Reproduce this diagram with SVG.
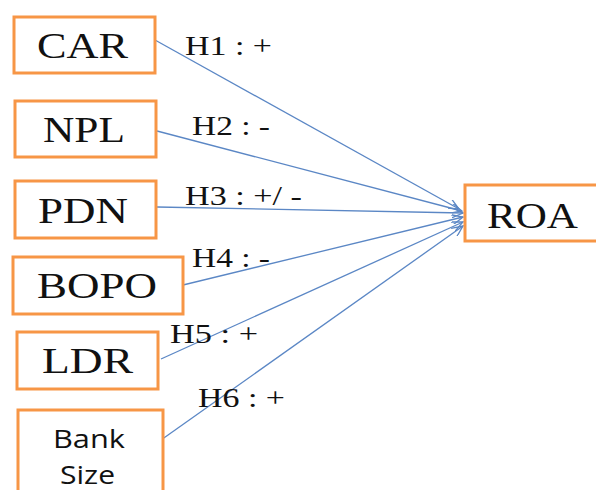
<svg xmlns="http://www.w3.org/2000/svg" width="596" height="490" viewBox="0 0 596 490">
<defs>
<style>
.box{fill:#fff;stroke:#f79646;stroke-width:3}
.t{font-family:"Liberation Serif","Times New Roman",serif;font-size:35px;fill:#111}
.s{font-family:"Open Sans","Liberation Sans",sans-serif;font-size:25px;fill:#111}
.h{font-family:"Liberation Serif","Times New Roman",serif;font-size:27px;fill:#111}
.c{stroke:#5b87c5;stroke-width:1.3;fill:none;marker-end:url(#ah)}
</style>
<marker id="ah" viewBox="0 0 12 10" refX="11" refY="5" markerWidth="12" markerHeight="10" markerUnits="userSpaceOnUse" orient="auto">
<path d="M0,0 L11,5 L0,10" fill="none" stroke="#5b87c5" stroke-width="1.3"/>
</marker>
</defs>
<rect width="596" height="490" fill="#fff"/>
<g id="connectors">
<line class="c" x1="155" y1="40" x2="459" y2="209"/>
<line class="c" x1="157" y1="131" x2="462" y2="211"/>
<line class="c" x1="157" y1="207" x2="463" y2="213"/>
<line class="c" x1="183" y1="285" x2="463" y2="217"/>
<line class="c" x1="161" y1="359" x2="463" y2="222"/>
<line class="c" x1="161" y1="440" x2="463" y2="226"/>
</g>
<g id="labels">
<text class="h" x="185" y="55" textLength="87" lengthAdjust="spacingAndGlyphs">H1 : +</text>
<text class="h" x="192" y="135" textLength="78" lengthAdjust="spacingAndGlyphs">H2 : -</text>
<text class="h" x="185" y="205" textLength="117" lengthAdjust="spacingAndGlyphs">H3 : +/ -</text>
<text class="h" x="192" y="267" textLength="78" lengthAdjust="spacingAndGlyphs">H4 : -</text>
<text class="h" x="170" y="343" textLength="88" lengthAdjust="spacingAndGlyphs">H5 : +</text>
<text class="h" x="198" y="407" textLength="87" lengthAdjust="spacingAndGlyphs">H6 : +</text>
</g>
<g id="car"><rect class="box" x="14" y="17" width="141" height="56"/><text class="t" x="37" y="58" textLength="91" lengthAdjust="spacingAndGlyphs">CAR</text></g>
<g id="npl"><rect class="box" x="15" y="101" width="141" height="56"/><text class="t" x="43" y="142" textLength="82" lengthAdjust="spacingAndGlyphs">NPL</text></g>
<g id="pdn"><rect class="box" x="15" y="181" width="141" height="57"/><text class="t" x="38" y="223" textLength="90" lengthAdjust="spacingAndGlyphs">PDN</text></g>
<g id="bopo"><rect class="box" x="13" y="257" width="170" height="57"/><text class="t" x="37" y="298" textLength="120" lengthAdjust="spacingAndGlyphs">BOPO</text></g>
<g id="ldr"><rect class="box" x="17" y="332" width="141" height="57"/><text class="t" x="42" y="373" textLength="91" lengthAdjust="spacingAndGlyphs">LDR</text></g>
<g id="banksize"><rect class="box" x="18" y="410" width="145" height="90"/><text class="s" x="53" y="448" textLength="72" lengthAdjust="spacingAndGlyphs">Bank</text><text class="s" x="60" y="484" textLength="55" lengthAdjust="spacingAndGlyphs">Size</text></g>
<g id="roa"><rect class="box" x="465" y="185" width="135" height="56"/><text class="t" x="487" y="228" textLength="91" lengthAdjust="spacingAndGlyphs">ROA</text></g>
</svg>
